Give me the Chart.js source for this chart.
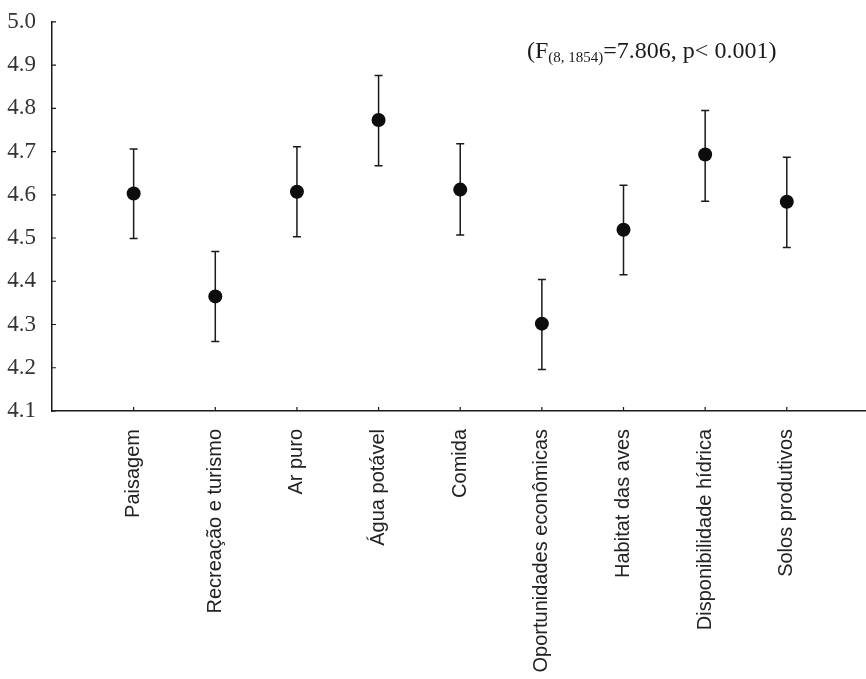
<!DOCTYPE html>
<html>
<head>
<meta charset="utf-8">
<title>Serviços ecossistêmicos</title>
<script src="https://cdn.jsdelivr.net/npm/chart.js@4/dist/chart.umd.min.js"></script>
<style>
  html, body { margin: 0; padding: 0; background: #fff; }
  #wrap { width: 866px; height: 679px; }
</style>
</head>
<body>
<div id="wrap"><canvas id="chart" width="866" height="679"></canvas></div>
<script>
(function () {
    'use strict';

    // Values
    var categories = ['Paisagem', 'Recreação e turismo', 'Ar puro', 'Água potável', 'Comida',
        'Oportunidades econômicas', 'Habitat das aves', 'Disponibilidade hídrica', 'Solos produtivos'];
    var means = [4.603, 4.365, 4.607, 4.773, 4.612, 4.302, 4.519, 4.693, 4.584];
    var lower = [4.499, 4.261, 4.503, 4.667, 4.507, 4.196, 4.415, 4.585, 4.478];
    var upper = [4.706, 4.469, 4.711, 4.876, 4.718, 4.404, 4.622, 4.795, 4.687];
    var yTicks = [4.1, 4.2, 4.3, 4.4, 4.5, 4.6, 4.7, 4.8, 4.9, 5.0];

    var ink = '#1a1a1a';

    // Let the x axis run to the right edge of the canvas
    var fullWidth = {
        id: 'fullWidth',
        afterLayout: function (chart) {
            var xs = chart.scales.x;
            var extra = chart.width - chart.chartArea.right;
            if (extra <= 0) return;
            chart.chartArea.right += extra;
            chart.chartArea.width += extra;
            xs.right += extra;
            xs.width += extra;
            xs.configure();
        }
    };

    // Vertical error bars with caps, drawn under the points
    var errorBars = {
        id: 'errorBars',
        beforeDatasetsDraw: function (chart) {
            var ctx = chart.ctx;
            var xs = chart.scales.x, ys = chart.scales.y;
            ctx.save();
            ctx.strokeStyle = ink;
            ctx.lineWidth = 1.5;
            categories.forEach(function (c, i) {
                var x = xs.getPixelForValue(i);
                var y0 = ys.getPixelForValue(lower[i]);
                var y1 = ys.getPixelForValue(upper[i]);
                ctx.beginPath();
                ctx.moveTo(x, y0); ctx.lineTo(x, y1);
                ctx.moveTo(x - 4, y0); ctx.lineTo(x + 4, y0);
                ctx.moveTo(x - 4, y1); ctx.lineTo(x + 4, y1);
                ctx.stroke();
            });
            ctx.restore();
        }
    };

    // Short inward ticks on both axes plus the F-test note
    var innerTicks = {
        id: 'innerTicks',
        afterDraw: function (chart) {
            var ctx = chart.ctx;
            var xs = chart.scales.x, ys = chart.scales.y;
            var area = chart.chartArea;
            ctx.save();
            ctx.strokeStyle = ink;
            ctx.lineWidth = 1.2;
            ctx.beginPath();
            yTicks.forEach(function (v) {
                var y = ys.getPixelForValue(v);
                ctx.moveTo(area.left, y); ctx.lineTo(area.left + 4, y);
            });
            categories.forEach(function (c, i) {
                var x = xs.getPixelForValue(i);
                ctx.moveTo(x, area.bottom); ctx.lineTo(x, area.bottom - 4);
            });
            ctx.stroke();

            // (F(8, 1854)=7.806, p< 0.001)
            var x = area.left + 475, base = area.top + 36;
            ctx.fillStyle = ink;
            ctx.textBaseline = 'alphabetic';
            ctx.font = '24px "Liberation Serif", serif';
            ctx.fillText('(F', x, base);
            x += ctx.measureText('(F').width;
            ctx.font = '15px "Liberation Serif", serif';
            ctx.fillText('(8, 1854)', x, base + 4);
            x += ctx.measureText('(8, 1854)').width;
            ctx.font = '24px "Liberation Serif", serif';
            ctx.fillText('=7.806, p< 0.001)', x, base);
            ctx.restore();
        }
    };

    new Chart(document.getElementById('chart'), {
        type: 'scatter',
        data: {
            datasets: [{
                data: means.map(function (m, i) { return { x: i, y: m }; }),
                pointRadius: 7,
                pointHoverRadius: 7,
                backgroundColor: '#0d0d0d',
                borderColor: '#0d0d0d',
                borderWidth: 0
            }]
        },
        options: {
            responsive: false,
            animation: false,
            devicePixelRatio: 1,
            layout: { padding: { top: 21, right: 0, left: 0, bottom: 0 } },
            plugins: { legend: { display: false }, tooltip: { enabled: false } },
            scales: {
                x: {
                    type: 'linear',
                    min: -1,
                    max: 8.97,
                    grid: { display: false },
                    border: { display: true, color: ink, width: 1.5 },
                    afterBuildTicks: function (scale) {
                        scale.ticks = categories.map(function (c, i) { return { value: i }; });
                    },
                    afterFit: function (scale) { scale.height = 268; },
                    ticks: {
                        autoSkip: false,
                        minRotation: 90,
                        maxRotation: 90,
                        padding: 10,
                        color: '#222',
                        font: { family: '"Liberation Sans", Arial, sans-serif', size: 20 },
                        callback: function (v) { return categories[v]; }
                    }
                },
                y: {
                    min: 4.1,
                    max: 5.0,
                    grid: { display: false },
                    border: { display: true, color: ink, width: 1.5 },
                    afterBuildTicks: function (scale) {
                        scale.ticks = yTicks.map(function (v) { return { value: v }; });
                    },
                    afterFit: function (scale) { scale.width = 52; },
                    ticks: {
                        padding: 8,
                        color: '#333',
                        font: { family: '"Liberation Serif", "Times New Roman", serif', size: 23 },
                        callback: function (v) { return v.toFixed(1); }
                    }
                }
            }
        },
        plugins: [fullWidth, errorBars, innerTicks]
    });
})();
</script>
</body>
</html>
